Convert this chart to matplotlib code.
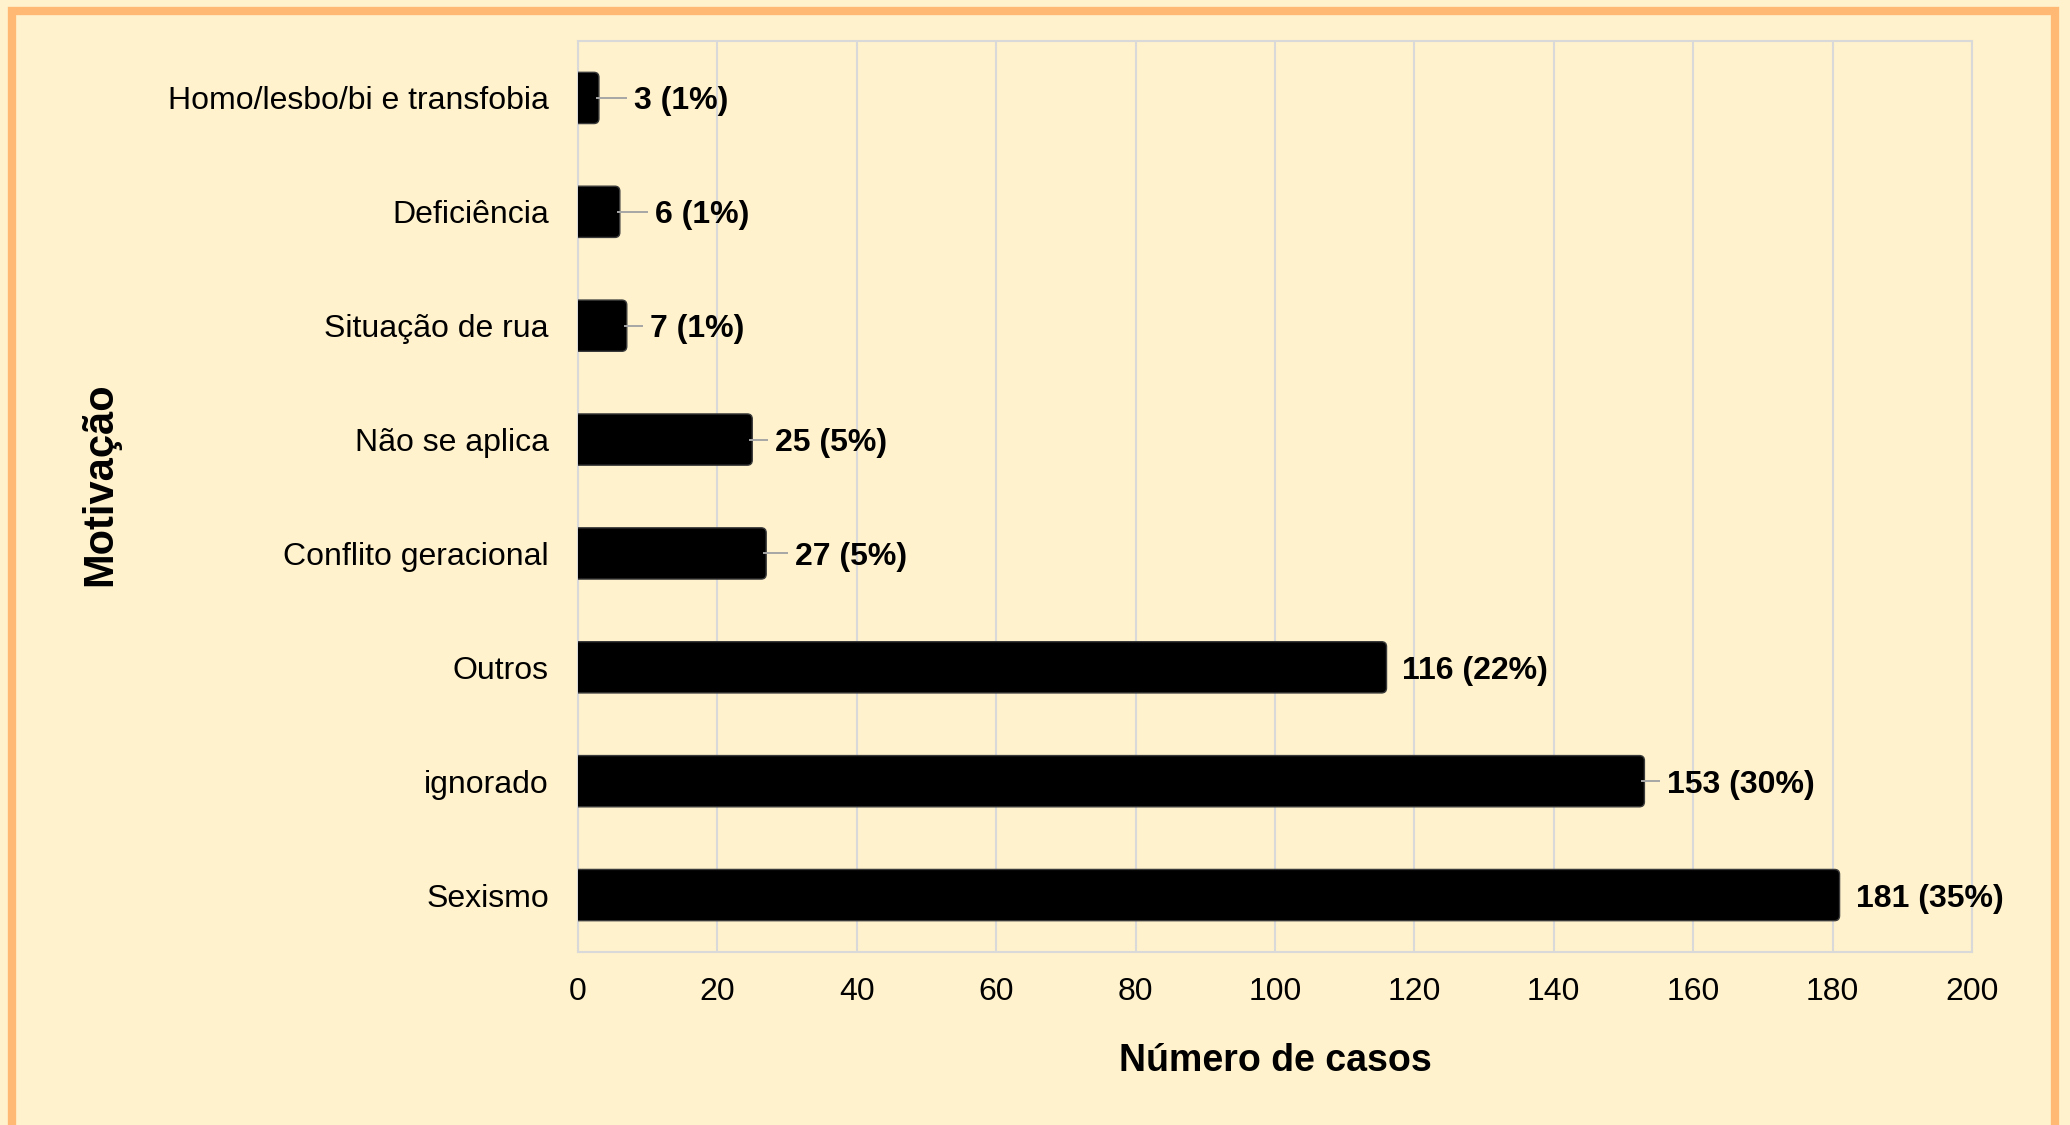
import matplotlib
matplotlib.use("Agg")
import matplotlib.pyplot as plt
from matplotlib.patches import FancyBboxPatch, Rectangle
import matplotlib.transforms as mtransforms

# ---- data ----
categories = ["Homo/lesbo/bi e transfobia", "Deficiência", "Situação de rua",
              "Não se aplica", "Conflito geracional", "Outros", "ignorado", "Sexismo"]
values = [3, 6, 7, 25, 27, 116, 153, 181]
percents = [1, 1, 1, 5, 5, 22, 30, 35]
xticks = [0, 20, 40, 60, 80, 100, 120, 140, 160, 180, 200]
xlabel = "Número de casos"
ylabel = "Motivação"

# ---- layout / style ----
label_gap_px = [35, 35, 23, 23, 29, 15, 23, 16]
has_leader = [True, True, True, True, True, False, True, False]

BG = "#FFF2CC"
BORDER = "#FFB974"
GRID = "#D9D9D9"
plt.rcParams['font.family'] = ['Liberation Sans', 'DejaVu Sans']

W, H = 2070, 1125
fig = plt.figure(figsize=(W / 100, H / 100), dpi=100, facecolor=BG)
L, R, T, B = 578, 1972, 41, 952
ax = fig.add_axes([L / W, 1 - B / H, (R - L) / W, (B - T) / H])
ax.set_facecolor(BG)

ypos = list(range(len(categories)))
bars = ax.barh(ypos, values, height=0.45, color="black", linewidth=0, zorder=3)
ax.set_xlim(0, 200)
ax.set_ylim(len(categories) - 0.5, -0.5)

# rounded right corners (left side clipped by the axis)
px_per_x = (R - L) / 200.0
px_per_y = (B - T) / len(categories)
rad_px = 5
for rect in bars.patches:
    rect.set_visible(False)
    x0, y0 = rect.get_x(), rect.get_y()
    w, h = rect.get_width(), rect.get_height()
    ext = 2.0
    fb = FancyBboxPatch((x0 - ext, y0), w + ext, h,
                        boxstyle=f"round,pad=0,rounding_size={rad_px / px_per_x}",
                        mutation_aspect=(px_per_x / px_per_y),
                        facecolor="black", edgecolor="#3a3a3a", linewidth=1.0,
                        zorder=3, clip_on=True)
    ax.add_patch(fb)

# value labels + leader lines
for i, (v, p) in enumerate(zip(values, percents)):
    gap = label_gap_px[i]
    tr = mtransforms.offset_copy(ax.transData, fig=fig, x=gap, y=0, units='dots')
    ax.text(v, i, f"{v} ({p}%)", transform=tr, ha="left", va="center_baseline",
            fontsize=23, fontweight="bold", color="black", zorder=5)
    if has_leader[i]:
        tr0 = mtransforms.offset_copy(ax.transData, fig=fig, x=-3, y=0, units='dots')
        tr1 = mtransforms.offset_copy(ax.transData, fig=fig, x=gap - 7, y=0, units='dots')
        p0 = tr0.transform((v, i))
        p1 = tr1.transform((v, i))
        ax.plot([p0[0], p1[0]], [p0[1], p1[1]], transform=None, color="#A6A6A6",
                linewidth=1.4, zorder=4, solid_capstyle="butt")

ax.set_xticks(xticks)
ax.set_xticklabels([str(t) for t in xticks])
ax.set_yticks(ypos)
ax.set_yticklabels(categories)
ax.tick_params(axis="both", length=0, labelsize=23, colors="black")
ax.tick_params(axis="y", pad=21)
ax.tick_params(axis="x", pad=18)
ax.grid(axis="x", color=GRID, linewidth=1.5, zorder=0)
ax.set_axisbelow(True)
for s in ax.spines.values():
    s.set_color(GRID)
    s.set_linewidth(1.5)

ax.set_xlabel(xlabel, fontsize=27, fontweight="bold", labelpad=26)
fig.text(100 / W, 1 - 484 / H, ylabel, rotation=90, ha="center", va="center",
         fontsize=30, fontweight="bold")

# orange frame
fig.add_artist(Rectangle((12 / W, -0.02), (2055 - 12) / W, 1 - 11 / H + 0.02,
                         transform=fig.transFigure, fill=False,
                         edgecolor=BORDER, linewidth=6, zorder=10))

fig.savefig("out.png", dpi=100, facecolor=BG)
